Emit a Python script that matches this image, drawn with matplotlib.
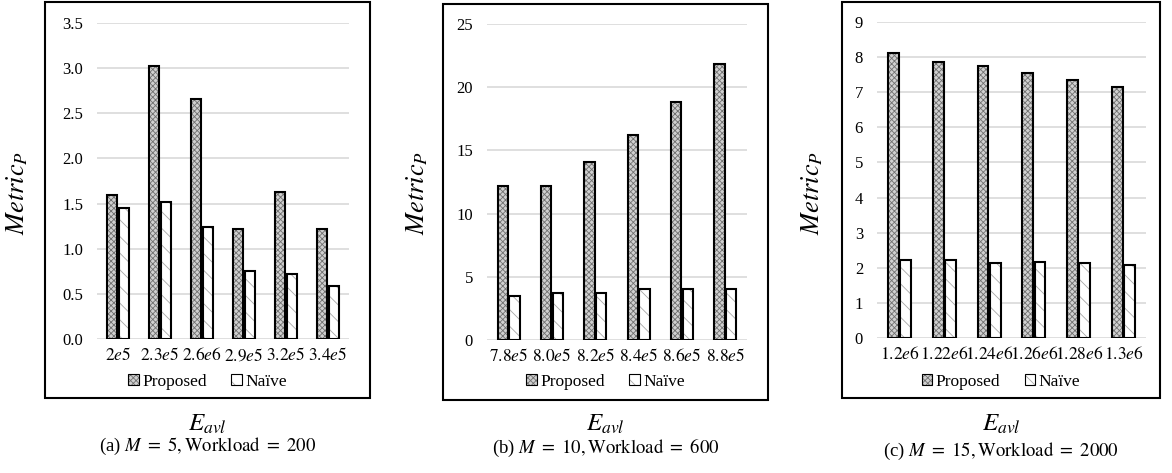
import numpy as np
import matplotlib
matplotlib.use("Agg")
import matplotlib.pyplot as plt
from matplotlib.patches import Patch, Rectangle

plt.rcParams['font.family'] = ['Liberation Serif', 'DejaVu Serif']
plt.rcParams['mathtext.fontset'] = 'stix'
plt.rcParams['hatch.linewidth'] = 0.6

# panel (a)
labels_a = ['$2e5$', '$2.3e5$', '$2.6e6$', '$2.9e5$', '$3.2e5$', '$3.4e5$']
proposed_a = [1.59, 3.02, 2.66, 1.22, 1.63, 1.22]
naive_a = [1.45, 1.52, 1.24, 0.75, 0.72, 0.59]
yticks_a = [0.0, 0.5, 1.0, 1.5, 2.0, 2.5, 3.0, 3.5]

# panel (b)
labels_b = ['$7.8e5$', '$8.0e5$', '$8.2e5$', '$8.4e5$', '$8.6e5$', '$8.8e5$']
proposed_b = [12.2, 12.2, 14.1, 16.2, 18.8, 21.8]
naive_b = [3.5, 3.7, 3.7, 4.0, 4.0, 4.0]
yticks_b = [0, 5, 10, 15, 20, 25]

# panel (c)
labels_c = ['$1.2e6$', '$1.22e6$', '$1.24e6$', '$1.26e6$', '$1.28e6$', '$1.3e6$']
proposed_c = [8.13, 7.86, 7.75, 7.55, 7.34, 7.15]
naive_c = [2.22, 2.21, 2.13, 2.17, 2.14, 2.08]
yticks_c = [0, 1, 2, 3, 4, 5, 6, 7, 8, 9]

captions = ['(a) $M\\ =\\ 5,\\mathrm{Workload}\\ =\\ 200$',
            '(b) $M\\ =\\ 10,\\mathrm{Workload}\\ =\\ 600$',
            '(c) $M\\ =\\ 15,\\mathrm{Workload}\\ =\\ 2000$']

W, H = 1172, 473
fig = plt.figure(figsize=(W / 100, H / 100), dpi=100)

# pixel layout: axes (left, right, top, bottom), box (left, right, top, bottom)
panels = [
    dict(ax=(97, 349, 23, 339), box=(45, 370, 2, 398), ylab=17, cap_y=446,
         labels=labels_a, p=proposed_a, n=naive_a, yt=yticks_a, fmt='{:.1f}'),
    dict(ax=(487, 747, 24, 340), box=(443, 768, 4, 400), ylab=417, cap_y=448,
         labels=labels_b, p=proposed_b, n=naive_b, yt=yticks_b, fmt='{:d}'),
    dict(ax=(877, 1146, 22, 338), box=(842, 1160, 2, 398), ylab=812, cap_y=451,
         labels=labels_c, p=proposed_c, n=naive_c, yt=yticks_c, fmt='{:d}'),
]

P_HATCH = dict(facecolor='#d0d0d0', edgecolor='#707070', hatch='xxxxxx', linewidth=0)
N_HATCH = dict(facecolor='white', edgecolor='#a8a8a8', hatch='\\\\', linewidth=0)
OUTLINE = dict(fill=False, edgecolor='black', linewidth=1.5)

w = 0.24
for i, pn in enumerate(panels):
    l, r, t, b = pn['ax']
    ax = fig.add_axes([l / W, 1 - b / H, (r - l) / W, (b - t) / H])
    x = np.arange(len(pn['labels']))
    ax.bar(x - 0.135, pn['p'], w, **P_HATCH, zorder=3)
    ax.bar(x - 0.135, pn['p'], w, **OUTLINE, zorder=4)
    ax.bar(x + 0.135, pn['n'], w, **N_HATCH, zorder=3)
    ax.bar(x + 0.135, pn['n'], w, **OUTLINE, zorder=4)
    ax.set_xlim(-0.5, len(x) - 0.5)
    ax.set_ylim(pn['yt'][0], pn['yt'][-1])
    ax.set_yticks(pn['yt'])
    ax.set_yticklabels([pn['fmt'].format(v) for v in pn['yt']])
    ax.set_xticks(x)
    ax.set_xticklabels(pn['labels'])
    ax.tick_params(length=0)
    ax.tick_params(axis='y', pad=10, labelsize=12)
    ax.tick_params(axis='x', pad=6, labelsize=12.5)
    ax.yaxis.grid(True, color='#d9d9d9', linewidth=1.2, zorder=0)
    ax.set_axisbelow(True)
    for s in ax.spines.values():
        s.set_visible(False)

    bl, br, bt, bb = pn['box']
    fig.add_artist(Rectangle((bl / W, 1 - bb / H), (br - bl) / W, (bb - bt) / H,
                             transform=fig.transFigure, fill=False,
                             edgecolor='black', linewidth=1.5))
    cx = (bl + br) / 2
    hp = (Patch(**P_HATCH), Patch(fill=False, edgecolor='black', linewidth=0.8))
    hn = (Patch(**N_HATCH), Patch(fill=False, edgecolor='black', linewidth=0.8))
    fig.legend([hp, hn], ['Proposed', 'Naïve'], loc='center',
               bbox_to_anchor=(cx / W, 1 - 382 / H), ncol=2, frameon=False,
               fontsize=12.5, handlelength=0.6, handleheight=0.6,
               handletextpad=0.2, columnspacing=1.4, borderaxespad=0)

    fig.text(pn['ylab'] / W, 1 - 193 / H, '$Metric_P$', rotation=90,
             ha='center', va='center', fontsize=19)
    fig.text(cx / W, 1 - 424 / H, '$E_{avl}$', ha='center', va='center', fontsize=18)
    fig.text(cx / W, 1 - pn['cap_y'] / H, captions[i], ha='center', va='center',
             fontsize=13.5)

fig.savefig('out.png', dpi=100)
